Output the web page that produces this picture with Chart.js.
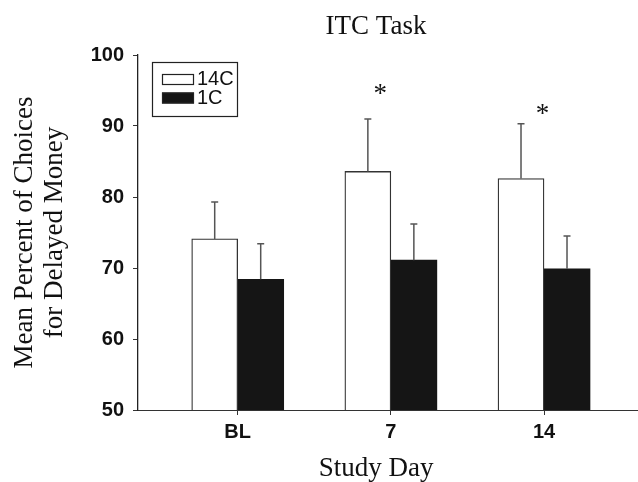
<!DOCTYPE html>
<html>
<head>
<meta charset="utf-8">
<script src="https://cdn.jsdelivr.net/npm/chart.js@4.4.0/dist/chart.umd.min.js"></script>
<style>
  html, body { margin: 0; padding: 0; background: #fff; }
  #wrap { width: 638px; height: 482px; }
</style>
</head>
<body>
<div id="wrap"><canvas id="itcChart"></canvas></div>
<script>
// values
const studyDays = ['BL', '7', '14'];
const dayPos = [1, 2, 3];
const mean14C = [74.1, 83.6, 82.6];
const err14C = [5.2, 7.4, 7.7];
const mean1C = [68.4, 71.1, 69.9];
const err1C = [5.0, 5.1, 4.6];
const yTicks = [50, 60, 70, 80, 90, 100];
// significance stars (x in day units, y in percent)
const starX = [1.93, 2.99];
const starY = [94.9, 92.1];

const SERIF = '"Liberation Serif", "Times New Roman", serif';
const SANS = '"Liberation Sans", Arial, sans-serif';
const INK = '#111';
const AXIS = '#333';

// error bars (upper only) + stars + legend box + axis line running to the edge
const extras = {
  id: 'extras',
  afterDatasetsDraw(chart) {
    const { ctx, chartArea, scales } = chart;
    const y = scales.y;
    const errs = [err14C, err1C];
    ctx.save();
    ctx.strokeStyle = '#555';
    ctx.lineWidth = 1.5;
    chart.data.datasets.forEach((ds, di) => {
      const meta = chart.getDatasetMeta(di);
      meta.data.forEach((bar, i) => {
        const yTop = y.getPixelForValue(ds.data[i].y + errs[di][i]);
        ctx.beginPath();
        ctx.moveTo(bar.x, bar.y);
        ctx.lineTo(bar.x, yTop);
        ctx.moveTo(bar.x - 3.5, yTop);
        ctx.lineTo(bar.x + 3.5, yTop);
        ctx.stroke();
      });
    });

    // axis line goes on past the plot to the right edge
    ctx.strokeStyle = AXIS;
    ctx.lineWidth = 1;
    ctx.beginPath();
    ctx.moveTo(chartArea.right, chartArea.bottom + 0.5);
    ctx.lineTo(chart.width, chartArea.bottom + 0.5);
    ctx.stroke();

    // stars
    ctx.fillStyle = INK;
    ctx.font = '27px ' + SERIF;
    ctx.textAlign = 'center';
    ctx.textBaseline = 'alphabetic';
    starX.forEach((sx, i) => {
      ctx.fillText('*', scales.x.getPixelForValue(sx), y.getPixelForValue(starY[i]) + 11);
    });

    // legend box
    const bx = chartArea.left + 14, by = chartArea.top + 7;
    ctx.strokeStyle = '#222';
    ctx.lineWidth = 1.2;
    ctx.strokeRect(bx + 0.5, by + 0.5, 85, 54);
    ctx.font = '20px ' + SANS;
    ctx.textAlign = 'left';
    chart.data.datasets.forEach((ds, di) => {
      const sy = by + 12 + di * 18.5;
      ctx.fillStyle = ds.backgroundColor;
      ctx.fillRect(bx + 10, sy, 32, 11);
      ctx.strokeStyle = '#222';
      ctx.lineWidth = 1.2;
      ctx.strokeRect(bx + 10.5, sy + 0.5, 31, 10);
      ctx.fillStyle = INK;
      ctx.fillText(ds.label, bx + 45, sy + 11);
    });
    ctx.restore();
  }
};

new Chart(document.getElementById('itcChart'), {
  type: 'bar',
  data: {
    datasets: [
      {
        label: '14C',
        data: dayPos.map((x, i) => ({ x, y: mean14C[i] })),
        backgroundColor: '#ffffff',
        borderColor: AXIS,
        borderWidth: 1.3,
        barThickness: 46
      },
      {
        label: '1C',
        data: dayPos.map((x, i) => ({ x, y: mean1C[i] })),
        backgroundColor: '#151515',
        borderWidth: 0,
        barThickness: 46
      }
    ]
  },
  options: {
    responsive: true,
    maintainAspectRatio: false,
    animation: false,
    layout: { padding: { left: 0, right: 24, top: 0, bottom: 0 } },
    plugins: {
      legend: { display: false },
      tooltip: { enabled: false },
      title: {
        display: true,
        text: 'ITC Task',
        fullSize: false,
        color: INK,
        font: { family: SERIF, size: 27, weight: 'normal', lineHeight: 1 },
        padding: { top: 13, bottom: 15 }
      }
    },
    scales: {
      x: {
        type: 'linear',
        min: 0.349,
        max: 3.457,
        offset: false,
        afterBuildTicks: s => { s.ticks = dayPos.map(v => ({ value: v })); },
        afterFit: s => { s.height = 72; },
        grid: { display: true, offset: false, drawOnChartArea: false, drawTicks: true, tickLength: 5, color: AXIS },
        border: { display: true, color: AXIS, width: 1 },
        ticks: {
          padding: 5,
          color: INK,
          font: { family: SANS, size: 20, weight: 'bold' },
          callback: (v, i) => studyDays[i]
        },
        title: {
          display: true,
          text: 'Study Day',
          color: INK,
          font: { family: SERIF, size: 27, lineHeight: 1 },
          padding: { top: 0, bottom: 0 }
        }
      },
      y: {
        min: 50,
        max: 100,
        afterBuildTicks: s => { s.ticks = yTicks.map(v => ({ value: v })); },
        afterFit: s => { s.width = 138; },
        grid: { display: true, drawOnChartArea: false, drawTicks: true, tickLength: 5, color: AXIS },
        border: { display: true, color: '#222', width: 1.3 },
        ticks: {
          padding: 9,
          color: INK,
          font: { family: SANS, size: 20, weight: 'bold' }
        },
        title: {
          display: true,
          text: ['Mean Percent of Choices', 'for Delayed Money'],
          color: INK,
          font: { family: SERIF, size: 27, lineHeight: 1.11 },
          padding: { top: 10, bottom: 0 }
        }
      }
    }
  },
  plugins: [extras]
});
</script>
</body>
</html>
